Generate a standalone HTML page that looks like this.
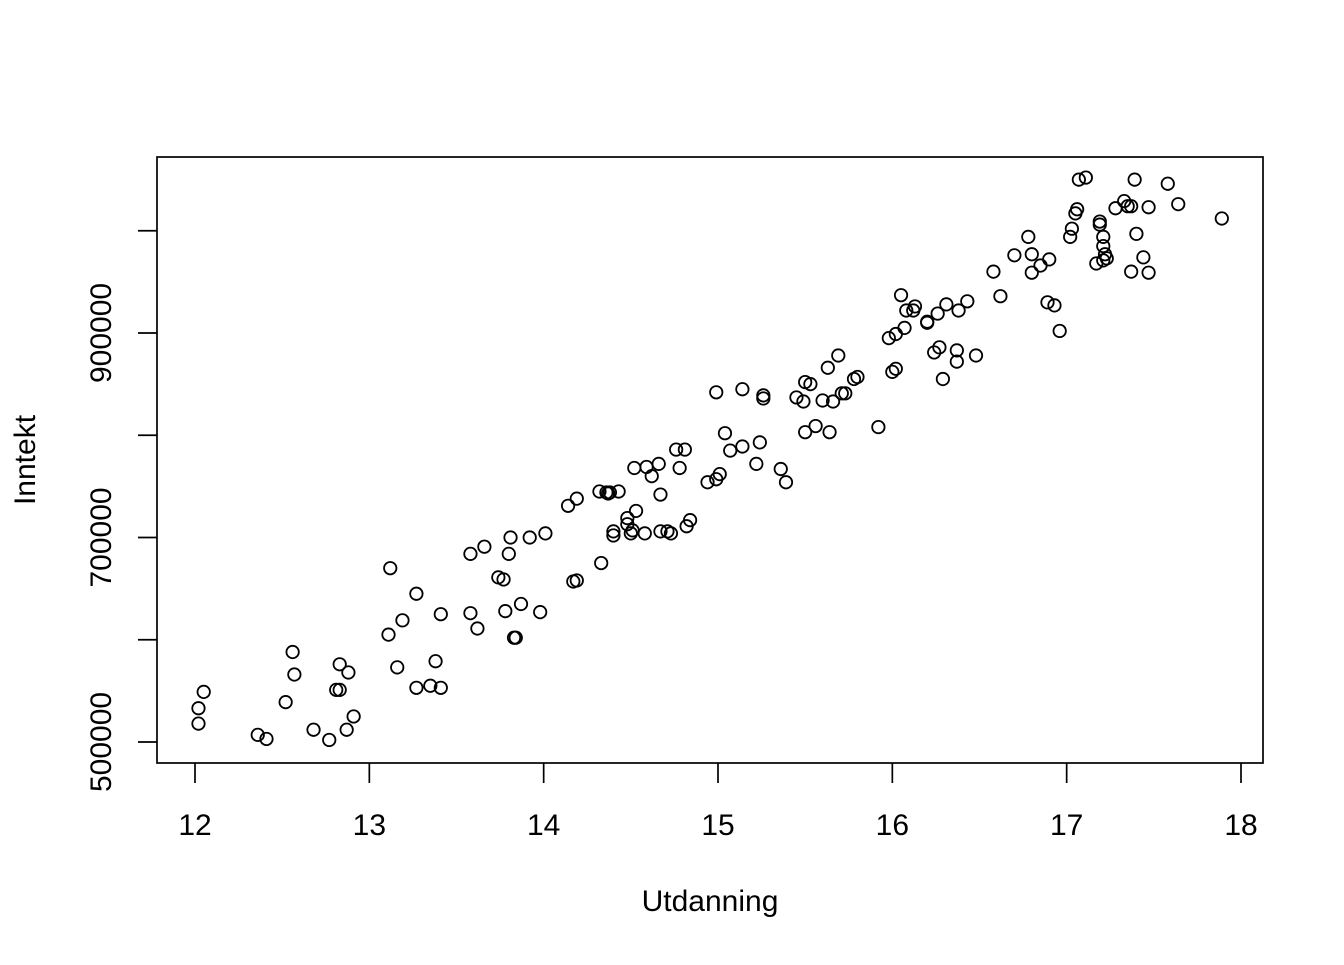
<!DOCTYPE html>
<html><head><meta charset="utf-8"><style>
html,body{margin:0;padding:0;background:#fff;}
svg text{font-family:"Liberation Sans",Arial,sans-serif;fill:#000;}
</style></head><body>
<svg id="chart" width="1344" height="960" viewBox="0 0 1344 960" xmlns="http://www.w3.org/2000/svg">
<rect x="0" y="0" width="1344" height="960" fill="#fff"/>
<rect x="157" y="157" width="1106" height="606" fill="none" stroke="#000" stroke-width="1.7"/>
<g id="xaxis"></g>
<g id="yaxis"></g>
<g id="points"></g>
<text x="710" y="911" font-size="30" text-anchor="middle">Utdanning</text>
<text x="0" y="0" font-size="30" text-anchor="middle" transform="translate(35,460) rotate(-90)">Inntekt</text>
</svg>
<script>
const xTicks = [12,13,14,15,16,17,18];
const yTicks = [500000,600000,700000,800000,900000,1000000];
const yTickLabels = ["500000","","700000","","900000",""];
const utdanning = [12.02,12.02,12.05,12.36,12.41,12.52,12.56,12.57,12.68,12.77,12.81,12.83,12.83,12.87,12.88,12.91,13.11,13.12,13.16,13.19,13.27,13.27,13.35,13.38,13.41,13.41,13.58,13.58,13.62,13.66,13.74,13.77,13.78,13.80,13.81,13.83,13.84,13.87,13.92,13.98,14.01,14.14,14.17,14.19,14.19,14.32,14.33,14.36,14.37,14.38,14.40,14.40,14.43,14.48,14.48,14.50,14.51,14.52,14.53,14.58,14.59,14.62,14.66,14.67,14.67,14.71,14.73,14.76,14.78,14.81,14.82,14.84,14.94,14.99,14.99,15.01,15.04,15.07,15.14,15.14,15.22,15.24,15.26,15.26,15.36,15.39,15.45,15.49,15.50,15.50,15.53,15.56,15.60,15.63,15.64,15.66,15.69,15.71,15.73,15.78,15.80,15.92,15.98,16.00,16.02,16.02,16.05,16.07,16.08,16.12,16.13,16.20,16.20,16.24,16.26,16.27,16.29,16.31,16.37,16.37,16.38,16.43,16.48,16.58,16.62,16.70,16.78,16.80,16.80,16.85,16.89,16.90,16.93,16.96,17.02,17.03,17.05,17.06,17.07,17.11,17.17,17.19,17.19,17.21,17.21,17.21,17.22,17.23,17.28,17.33,17.35,17.37,17.37,17.39,17.40,17.44,17.47,17.47,17.58,17.64,17.89];
const inntektK = [533,518,549,507,503,539,588,566,512,502,551,576,551,512,568,525,605,670,573,619,645,553,555,579,625,553,684,626,611,691,661,659,628,684,700,602,602,635,700,627,704,731,657,658,738,745,675,744,743,744,702,706,745,719,713,704,707,768,726,704,769,760,772,742,706,706,704,786,768,786,711,717,754,757,842,762,802,785,789,845,772,793,836,839,767,754,837,833,852,803,850,809,834,866,803,833,878,841,841,855,857,808,895,862,865,899,937,905,922,922,926,910,911,881,919,886,855,928,883,872,922,931,878,960,936,976,994,977,959,966,930,972,927,902,994,1002,1017,1021,1050,1052,968,1009,1006,971,994,985,977,973,1022,1029,1024,960,1024,1050,997,974,1023,959,1046,1026,1012];

const NS='http://www.w3.org/2000/svg';
function xs(v){return 195+(v-12)*(1241-195)/6;}
function ys(v){return 742-(v-500000)*(742-333)/400000;}
const xg=document.getElementById('xaxis'), yg=document.getElementById('yaxis'), pg=document.getElementById('points');
function mk(tag,attrs,parent){const e=document.createElementNS(NS,tag);for(const k in attrs)e.setAttribute(k,attrs[k]);parent.appendChild(e);return e;}
xTicks.forEach(function(t){
  const l=mk('line',{x1:xs(t),x2:xs(t),y1:763,y2:783,stroke:'#000','stroke-width':1.7},xg);
  
  
  const tx=mk('text',{x:xs(t),y:835,'font-size':30,'text-anchor':'middle'},xg);
  tx.textContent=String(t);
  
  
});
yTicks.forEach(function(t,i){
  const l=mk('line',{x1:138,x2:157,y1:ys(t),y2:ys(t),stroke:'#000','stroke-width':1.7},yg);
  
  
  if(yTickLabels[i]){
    const tx=mk('text',{x:0,y:0,'font-size':30,'text-anchor':'middle',transform:'translate(111,'+ys(t)+') rotate(-90)'},yg);
    tx.textContent=yTickLabels[i];
    
    
  }
});
utdanning.forEach(function(x,i){
  const c=mk('circle',{cx:xs(x),cy:ys(inntektK[i]*1000),r:6.2,fill:'none',stroke:'#000','stroke-width':1.8},pg);
  
  
});
</script>
</body></html>
